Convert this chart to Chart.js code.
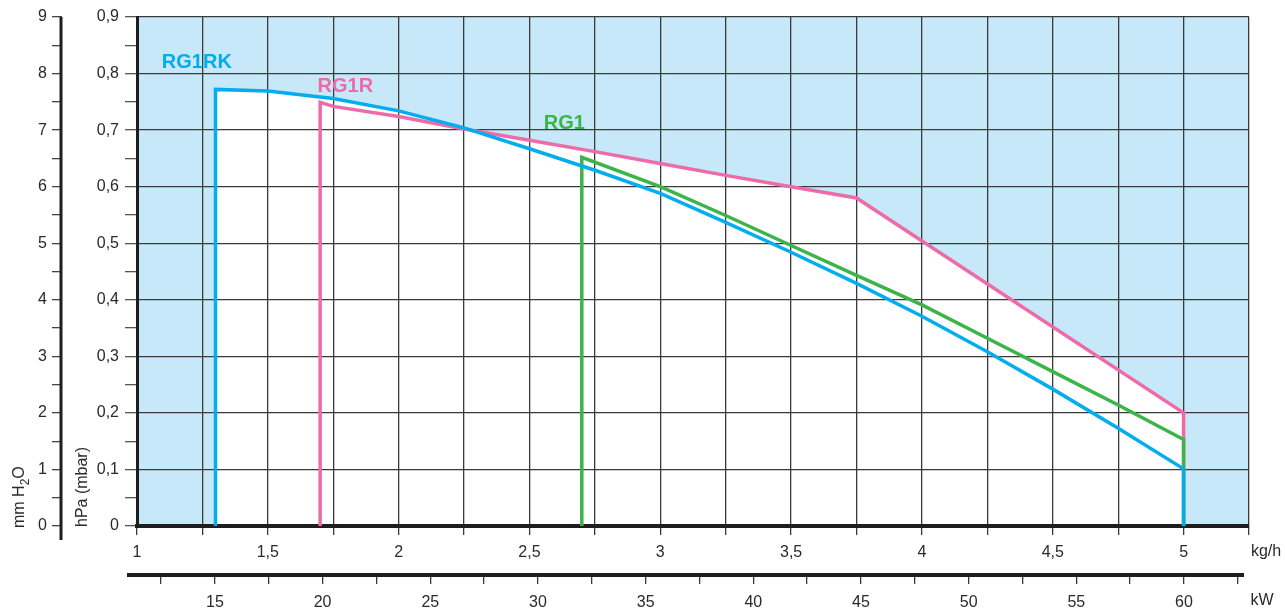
<!DOCTYPE html>
<html>
<head>
<meta charset="utf-8">
<script src="https://cdn.jsdelivr.net/npm/chart.js@4.4.0/dist/chart.umd.min.js"></script>
<style>
  html, body { margin: 0; padding: 0; background: #fff; }
  #wrap { width: 1285px; height: 611px; position: relative; }
</style>
</head>
<body>
<div id="wrap"><canvas id="curveCanvas"></canvas></div>
<script>
// --- Datos (kg/h -> hPa) ---
const rg1rkKgh = [1.3, 1.3, 1.5, 1.75, 2.0, 2.25, 2.5, 2.75, 3.0, 3.25, 3.5, 3.75, 4.0, 4.25, 4.5, 4.75, 5.0, 5.0];
const rg1rkHpa = [0, 0.772, 0.769, 0.756, 0.734, 0.704, 0.667, 0.629, 0.588, 0.537, 0.484, 0.429, 0.371, 0.308, 0.242, 0.173, 0.101, 0];

const rg1rKgh = [1.7, 1.7, 1.75, 2.0, 2.25, 2.5, 2.75, 3.0, 3.25, 3.5, 3.75, 5.0, 5.0];
const rg1rHpa = [0, 0.749, 0.742, 0.724, 0.702, 0.682, 0.662, 0.641, 0.620, 0.600, 0.580, 0.200, 0];

const rg1Kgh = [2.7, 2.7, 3.0, 3.25, 3.5, 3.75, 4.0, 4.25, 4.5, 4.75, 5.0, 5.0];
const rg1Hpa = [0, 0.652, 0.600, 0.549, 0.496, 0.443, 0.391, 0.332, 0.273, 0.214, 0.153, 0];

const seriesNames = ['RG1RK', 'RG1', 'RG1R'];
const seriesColors = ['#00aeef', '#3cb44a', '#ef6aa8'];

// Ejes
const kghRange = [1, 5.25];     // eje inferior kg/h
const hpaRange = [0, 0.9];      // eje izquierdo hPa
const mmRange = [0, 9];         // eje mm H2O
const kwRange = [11.38, 63.02]; // eje kW (alineado con kg/h)

const toPoints = (xs, ys) => xs.map((x, i) => ({ x: x, y: ys[i] }));
const comma = v => String(Math.round(v * 100) / 100).replace('.', ',');

const FONT = "'Liberation Sans', Arial, sans-serif";
const GRID = '#3a3a3a';
const INK = '#2a2a2a';
const AXIS = '#1e1e1e';

// --- Fondo azul, zona blanca bajo las curvas, textos extra ---
const areaPlugin = {
    id: 'areaPlugin',
    beforeDraw(chart) {
        const { ctx, chartArea: a, scales } = chart;
        ctx.save();
        ctx.fillStyle = '#c7e8f8';
        ctx.fillRect(a.left, a.top, a.right - a.left, a.bottom - a.top);
        ctx.fillStyle = '#ffffff';
        chart.data.datasets.forEach(ds => {
            ctx.beginPath();
            ds.data.forEach((p, i) => {
                const px = scales.x.getPixelForValue(p.x);
                const py = scales.y.getPixelForValue(p.y);
                if (i === 0) ctx.moveTo(px, py); else ctx.lineTo(px, py);
            });
            ctx.closePath();
            ctx.fill();
        });
        ctx.restore();
    },
    afterDatasetsDraw(chart) {
        const { ctx, scales, chartArea: a } = chart;

        // líneas de eje alargadas (kW y mm H2O)
        ctx.save();
        ctx.strokeStyle = AXIS;
        ctx.lineWidth = 4;
        ctx.beginPath();
        ctx.moveTo(a.left - 10, scales.kw.top + 1);
        ctx.lineTo(a.right - 5, scales.kw.top + 1);
        ctx.stroke();
        ctx.lineWidth = 3;
        ctx.beginPath();
        ctx.moveTo(scales.mm.right - 1, a.top);
        ctx.lineTo(scales.mm.right - 1, a.bottom + 14);
        ctx.stroke();
        ctx.restore();

        // Etiquetas de las curvas
        const tags = [
            { text: 'RG1RK', x: 1.095, y: 0.820, color: seriesColors[0] },
            { text: 'RG1R', x: 1.690, y: 0.778, color: seriesColors[2] },
            { text: 'RG1', x: 2.555, y: 0.7125, color: seriesColors[1] }
        ];
        ctx.save();
        ctx.font = 'bold 20px ' + FONT;
        ctx.textBaseline = 'middle';
        ctx.textAlign = 'left';
        tags.forEach(t => {
            ctx.fillStyle = t.color;
            ctx.fillText(t.text, scales.x.getPixelForValue(t.x), scales.y.getPixelForValue(t.y));
        });

        // Unidades de los ejes
        ctx.fillStyle = INK;
        ctx.font = '16px ' + FONT;
        ctx.textAlign = 'center';
        ctx.fillText('kg/h', a.right + 17, scales.x.top + 26);
        ctx.fillText('kW', a.right + 13, scales.kw.top + 27);

        // Títulos verticales
        ctx.textAlign = 'left';
        ctx.save();
        ctx.translate(scales.y.left + 21, a.bottom + 1);
        ctx.rotate(-Math.PI / 2);
        ctx.fillText('hPa (mbar)', 0, 0);
        ctx.restore();

        ctx.save();
        ctx.translate(scales.mm.left + 20, a.bottom + 2);
        ctx.rotate(-Math.PI / 2);
        let w = 0;
        ctx.font = '16px ' + FONT;
        ctx.fillText('mm H', w, 0);
        w += ctx.measureText('mm H').width;
        ctx.font = '12px ' + FONT;
        ctx.fillText('2', w, 6);
        w += ctx.measureText('2').width;
        ctx.font = '16px ' + FONT;
        ctx.fillText('O', w, 0);
        ctx.restore();
        ctx.restore();
    }
};

const datasets = [
    toPoints(rg1rkKgh, rg1rkHpa),
    toPoints(rg1Kgh, rg1Hpa),
    toPoints(rg1rKgh, rg1rHpa)
].map((pts, i) => ({
    label: seriesNames[i],
    data: pts,
    showLine: true,
    borderColor: seriesColors[i],
    borderWidth: 3.5,
    pointRadius: 0,
    tension: 0,
    fill: false,
    borderJoinStyle: 'miter'
}));

const tickFont = { family: FONT, size: 16 };

new Chart(document.getElementById('curveCanvas'), {
    type: 'scatter',
    data: { datasets: datasets },
    options: {
        responsive: true,
        maintainAspectRatio: false,
        animation: false,
        layout: { padding: { top: 17, right: 36, left: 0, bottom: 0 } },
        plugins: { legend: { display: false }, tooltip: { enabled: false } },
        scales: {
            x: {
                type: 'linear', position: 'bottom', weight: 0,
                min: kghRange[0], max: kghRange[1],
                afterFit: s => { s.height = 48; },
                border: { display: true, color: AXIS, width: 4 },
                grid: { color: GRID, lineWidth: 1.3, tickLength: 9, tickColor: GRID },
                ticks: {
                    stepSize: 0.25, autoSkip: false, maxRotation: 0, padding: 8,
                    color: INK, font: tickFont,
                    callback: v => (Math.round(v * 100) % 50 === 0 ? comma(v) : '')
                }
            },
            kw: {
                type: 'linear', position: 'bottom', weight: 1,
                min: kwRange[0], max: kwRange[1],
                afterFit: s => { s.height = 37; },
                border: { display: false },
                grid: { drawOnChartArea: false, tickLength: 10, color: GRID, lineWidth: 1.3 },
                ticks: {
                    stepSize: 2.5, includeBounds: false, autoSkip: false, maxRotation: 0, padding: 9,
                    color: INK, font: tickFont,
                    callback: v => (Math.round(v * 10) % 50 === 0 ? comma(v) : '')
                }
            },
            y: {
                type: 'linear', position: 'left', weight: 0,
                min: hpaRange[0], max: hpaRange[1],
                afterFit: s => { s.width = 75; },
                border: { display: true, color: AXIS, width: 3 },
                grid: {
                    lineWidth: 1.3, tickLength: 12, tickColor: '#555',
                    color: c => (Math.round(c.tick.value * 100) % 10 === 0 ? GRID : 'rgba(0,0,0,0)')
                },
                ticks: {
                    stepSize: 0.05, autoSkip: false, padding: 6,
                    color: INK, font: tickFont,
                    callback: v => (Math.round(v * 100) % 10 === 0 ? comma(v) : '')
                }
            },
            mm: {
                type: 'linear', position: 'left', weight: 1,
                min: mmRange[0], max: mmRange[1],
                afterFit: s => { s.width = 62; },
                border: { display: false },
                grid: { drawOnChartArea: false, tickLength: 10, color: '#444', lineWidth: 1.3 },
                ticks: {
                    stepSize: 0.5, autoSkip: false, padding: 5,
                    color: INK, font: tickFont,
                    callback: v => (Math.round(v * 10) % 10 === 0 ? comma(v) : '')
                }
            }
        }
    },
    plugins: [areaPlugin]
});
</script>
</body>
</html>
